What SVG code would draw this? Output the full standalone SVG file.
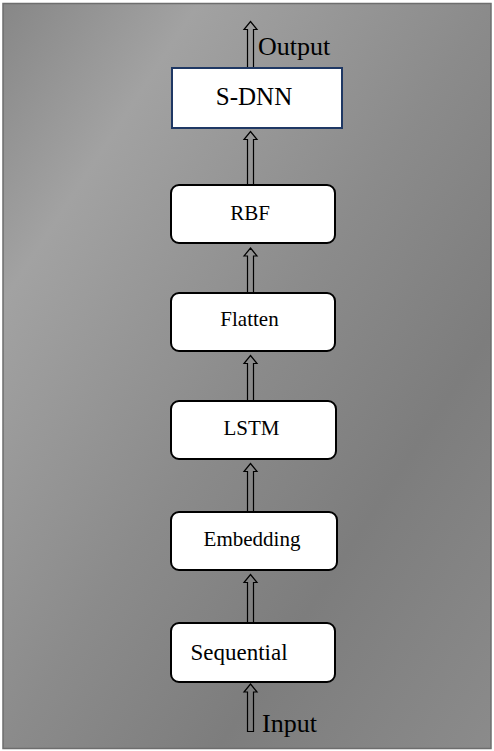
<svg xmlns="http://www.w3.org/2000/svg" width="494" height="751" viewBox="0 0 494 751">
  <defs>
    <linearGradient id="bg" x1="0" y1="0" x2="1" y2="1">
      <stop offset="0" stop-color="#878787"/>
      <stop offset="0.2" stop-color="#a2a2a2"/>
      <stop offset="0.5" stop-color="#8b8b8b"/>
      <stop offset="0.72" stop-color="#7d7d7d"/>
      <stop offset="1" stop-color="#8b8b8b"/>
    </linearGradient>
    <!-- hollow block arrow pointing up, tip at (0,0) -->
    <path id="uparrow" d="M0,0 L6.5,8 L3,8 L3,H L-3,H L-3,8 L-6.5,8 Z"/>
  </defs>
  <style>
    .node rect { fill: #ffffff; stroke: #000000; stroke-width: 2; }
    .node text { font-family: "Liberation Serif", "Times New Roman", serif; font-size: 21px; fill: #000000; text-anchor: middle; }
    .arrow { fill: none; stroke: #000000; stroke-width: 1.2; stroke-linejoin: miter; }
    .label { font-family: "Liberation Serif", "Times New Roman", serif; font-size: 26px; fill: #000000; }
  </style>

  <rect x="0" y="0" width="494" height="751" fill="#ffffff"/>
  <rect x="3" y="3.5" width="488" height="745" fill="url(#bg)" stroke="#6e6e6e" stroke-width="1.5"/>

  <!-- connectors: hollow up-arrows -->
  <g id="connectors">
    <path class="arrow" d="M250.5,684 L257,692 L253.5,692 L253.5,731.5 L247.5,731.5 L247.5,692 L244,692 Z"/>
    <path class="arrow" d="M250.5,574.5 L257,582.5 L253.5,582.5 L253.5,623 L247.5,623 L247.5,582.5 L244,582.5 Z"/>
    <path class="arrow" d="M250.5,463.5 L257,471.5 L253.5,471.5 L253.5,511.5 L247.5,511.5 L247.5,471.5 L244,471.5 Z"/>
    <path class="arrow" d="M250.5,355.5 L257,363.5 L253.5,363.5 L253.5,401 L247.5,401 L247.5,363.5 L244,363.5 Z"/>
    <path class="arrow" d="M250.5,248 L257,256 L253.5,256 L253.5,292.5 L247.5,292.5 L247.5,256 L244,256 Z"/>
    <path class="arrow" d="M250.5,131.5 L257,139.5 L253.5,139.5 L253.5,185 L247.5,185 L247.5,139.5 L244,139.5 Z"/>
    <path class="arrow" d="M250.5,21.5 L257,29.5 L253.5,29.5 L253.5,68 L247.5,68 L247.5,29.5 L244,29.5 Z"/>
  </g>

  <text class="label" x="258" y="55">Output</text>
  <text class="label" x="262" y="732">Input</text>

  <g id="sdnn">
    <rect x="172" y="68" width="170" height="60" fill="#ffffff" stroke="#1f3864" stroke-width="2"/>
    <text x="254" y="105" font-family="Liberation Serif, Times New Roman, serif" font-size="25" text-anchor="middle">S-DNN</text>
  </g>

  <g id="rbf" class="node">
    <rect x="171" y="185" width="164" height="58" rx="8"/>
    <text x="250" y="219.5">RBF</text>
  </g>

  <g id="flatten" class="node">
    <rect x="171" y="293" width="164" height="58" rx="8"/>
    <text x="249.5" y="326">Flatten</text>
  </g>

  <g id="lstm" class="node">
    <rect x="171" y="401" width="165" height="58" rx="8"/>
    <text x="251.5" y="435">LSTM</text>
  </g>

  <g id="embedding" class="node">
    <rect x="171" y="512" width="166" height="58" rx="8"/>
    <text x="252" y="546">Embedding</text>
  </g>

  <g id="sequential" class="node">
    <rect x="171" y="623" width="164" height="59" rx="8"/>
    <text x="239" y="659.5" style="font-size:23px">Sequential</text>
  </g>
</svg>
